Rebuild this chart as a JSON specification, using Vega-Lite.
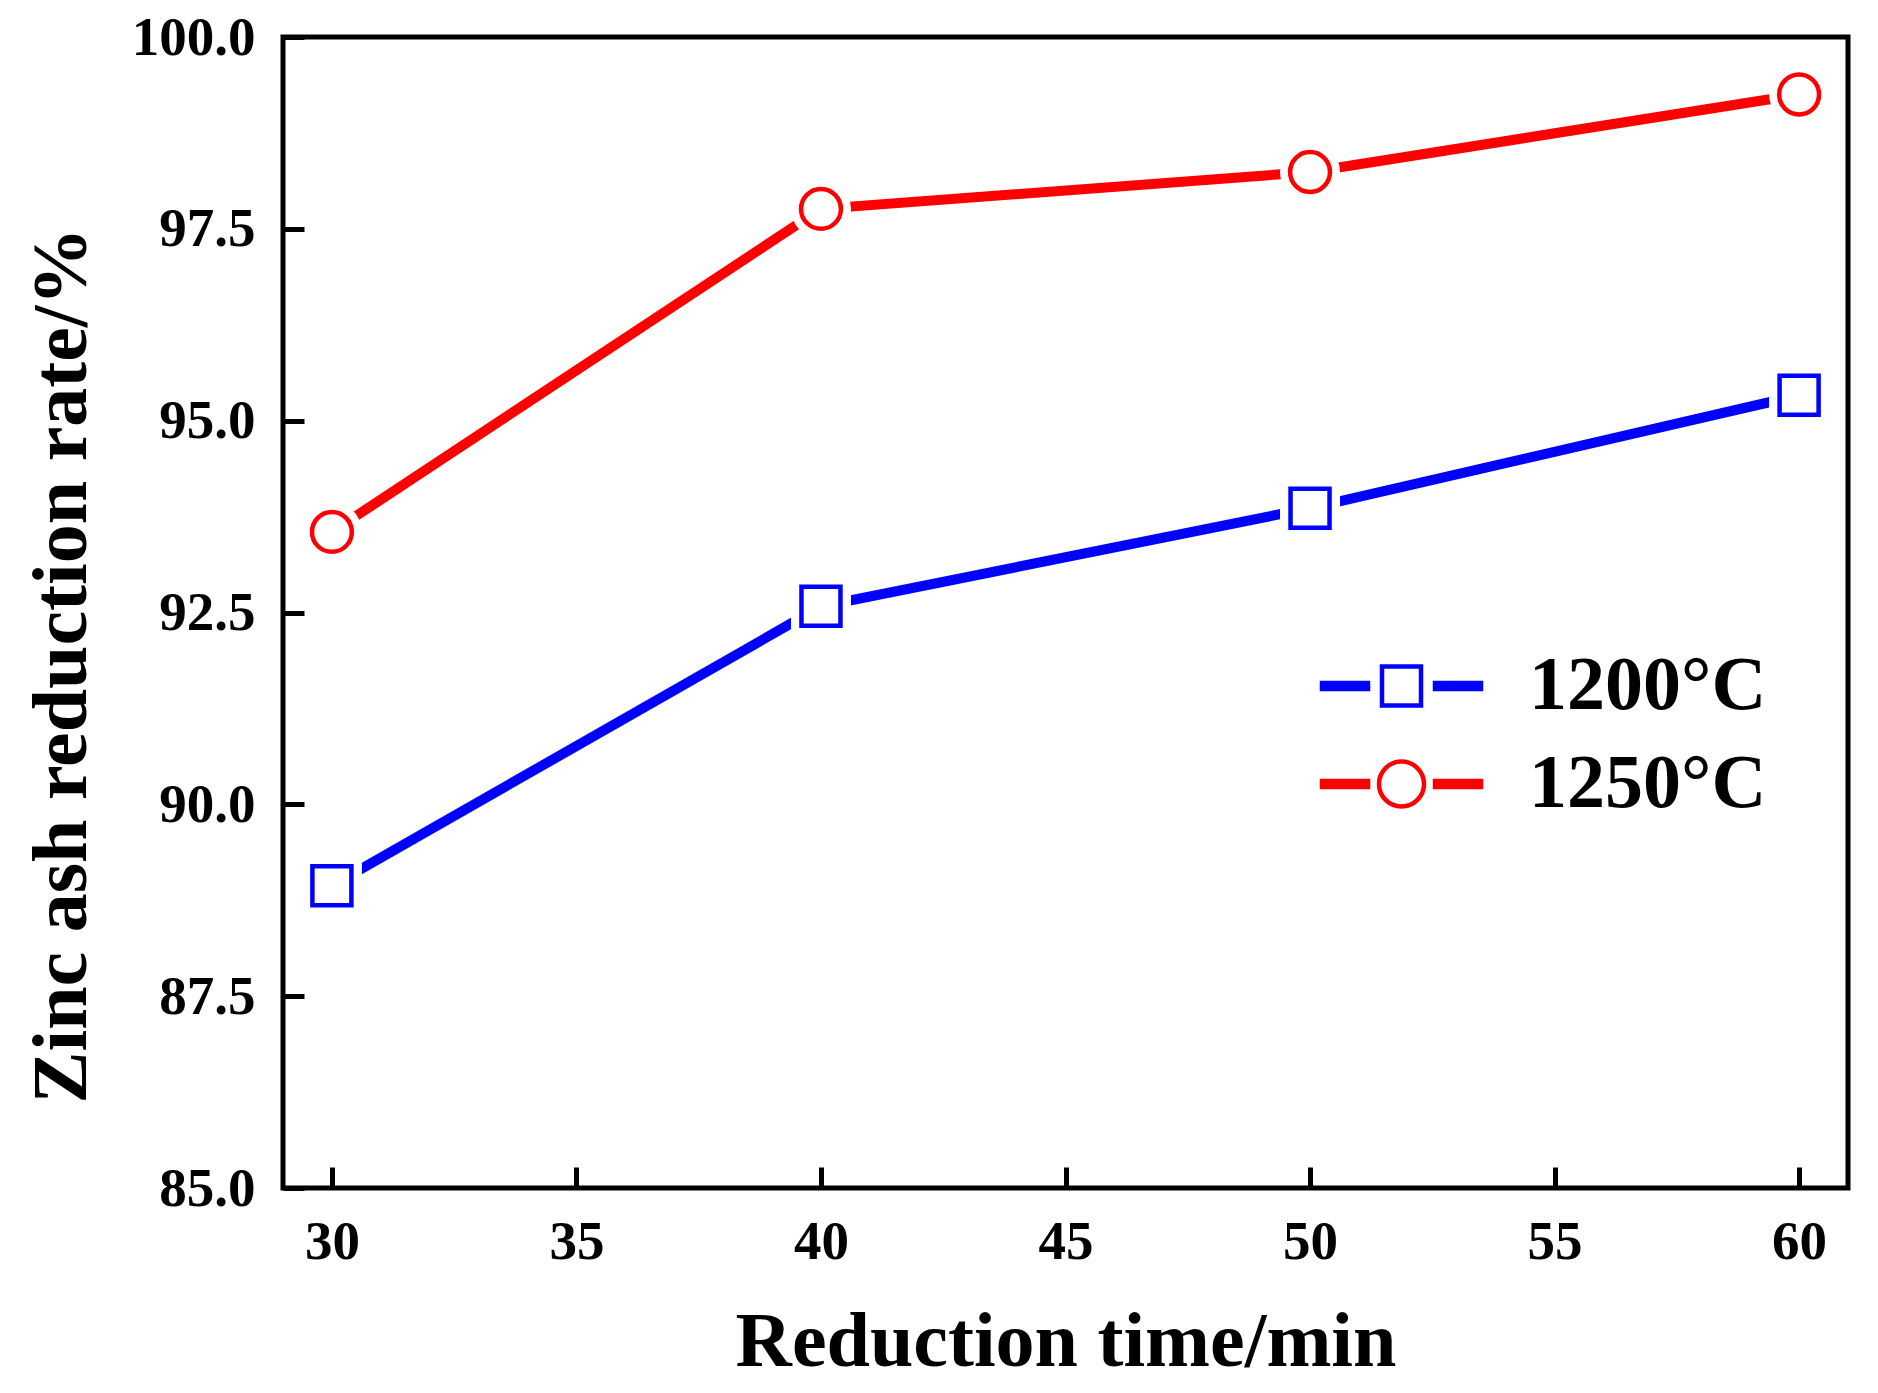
{
  "$schema": "https://vega.github.io/schema/vega-lite/v6.json",
  "width": 1565,
  "height": 1151,
  "autosize": "none",
  "padding": {"left": 283, "top": 37, "right": 30, "bottom": 205},
  "background": "white",
  "config": {
    "view": {"stroke": "black", "strokeWidth": 5},
    "font": "Liberation Serif",
    "axis": {
      "grid": false,
      "domain": false,
      "ticks": true,
      "tickColor": "black",
      "tickWidth": 5,
      "tickSize": -21,
      "labelFont": "Liberation Serif",
      "labelFontWeight": "bold",
      "labelFontSize": 55,
      "labelColor": "black",
      "titleFont": "Liberation Serif",
      "titleFontWeight": "bold",
      "titleFontSize": 78,
      "titleColor": "black"
    }
  },
  "data": {
    "values": [
      {"time": 30, "rate": 88.94, "temp": "1200°C"},
      {"time": 40, "rate": 92.58, "temp": "1200°C"},
      {"time": 50, "rate": 93.86, "temp": "1200°C"},
      {"time": 60, "rate": 95.33, "temp": "1200°C"},
      {"time": 30, "rate": 93.55, "temp": "1250°C"},
      {"time": 40, "rate": 97.76, "temp": "1250°C"},
      {"time": 50, "rate": 98.24, "temp": "1250°C"},
      {"time": 60, "rate": 99.25, "temp": "1250°C"}
    ]
  },
  "encoding": {
    "x": {
      "field": "time",
      "type": "quantitative",
      "scale": {"domain": [29, 61], "nice": false, "zero": false},
      "axis": {
        "values": [30, 35, 40, 45, 50, 55, 60],
        "title": "Reduction time/min",
        "labelBaseline": "alphabetic",
        "labelPadding": 91,
        "labelFlush": false,
        "titleBaseline": "alphabetic",
        "titleY": 177
      }
    },
    "y": {
      "field": "rate",
      "type": "quantitative",
      "scale": {"domain": [85, 100], "nice": false, "zero": false},
      "axis": {
        "values": [85, 87.5, 90, 92.5, 95, 97.5, 100],
        "format": ".1f",
        "title": "Zinc ash reduction rate/%",
        "labelPadding": 49,
        "labelFlush": false,
        "titleAngle": -90,
        "titleAlign": "center",
        "titleBaseline": "alphabetic",
        "titleX": -198,
        "titleY": 628
      }
    }
  },
  "layer": [
    {
      "mark": {"type": "line", "strokeWidth": 10, "opacity": 1},
      "encoding": {
        "color": {
          "field": "temp",
          "type": "nominal",
          "scale": {"domain": ["1200°C", "1250°C"], "range": ["#0000ff", "#ff0000"]},
          "legend": {
            "title": null,
            "orient": "none",
            "legendX": 1080.5,
            "legendY": 611,
            "padding": 0,
            "symbolSize": 1600,
            "symbolStrokeWidth": 4.5,
            "symbolOpacity": 1,
            "labelOffset": 89.5,
            "labelFont": "Liberation Serif",
            "labelFontWeight": "bold",
            "labelFontSize": 76,
            "labelColor": "black",
            "labelLimit": 0,
            "rowPadding": 22,
            "encode": {
              "symbols": {
                "update": {
                  "fill": {"value": "transparent"},
                  "strokeWidth": {"value": 4.5},
                  "opacity": {"value": 1},
                  "shape": {
                    "signal": "datum.value === '1200°C' ? 'M-0.975,-0.975H0.975V0.975H-0.975Z M-3.975,-0.15H-1.675V0.15H-3.975Z M-3.975,0H-1.675 M1.675,-0.15H3.975V0.15H1.675Z M1.675,0H3.975' : 'M1.125,0A1.125,1.125,0,1,1,-1.125,0A1.125,1.125,0,1,1,1.125,0Z M-3.975,-0.15H-1.675V0.15H-3.975Z M-3.975,0H-1.675 M1.675,-0.15H3.975V0.15H1.675Z M1.675,0H3.975'"
                  }
                }
              }
            }
          }
        }
      }
    },
    {
      "transform": [{"filter": "datum.temp === '1200°C'"}],
      "mark": {"type": "point", "shape": "square", "filled": true, "fill": "white", "size": 3600, "opacity": 1, "strokeWidth": 0}
    },
    {
      "transform": [{"filter": "datum.temp === '1250°C'"}],
      "mark": {"type": "point", "shape": "circle", "filled": true, "fill": "white", "size": 3600, "opacity": 1, "strokeWidth": 0}
    },
    {
      "transform": [{"filter": "datum.temp === '1200°C'"}],
      "mark": {"type": "point", "shape": "square", "filled": false, "stroke": "#0000ff", "size": 1521, "strokeWidth": 4.5, "opacity": 1}
    },
    {
      "transform": [{"filter": "datum.temp === '1250°C'"}],
      "mark": {"type": "point", "shape": "circle", "filled": false, "stroke": "#ff0000", "size": 1590, "strokeWidth": 4.5, "opacity": 1}
    }
  ]
}
